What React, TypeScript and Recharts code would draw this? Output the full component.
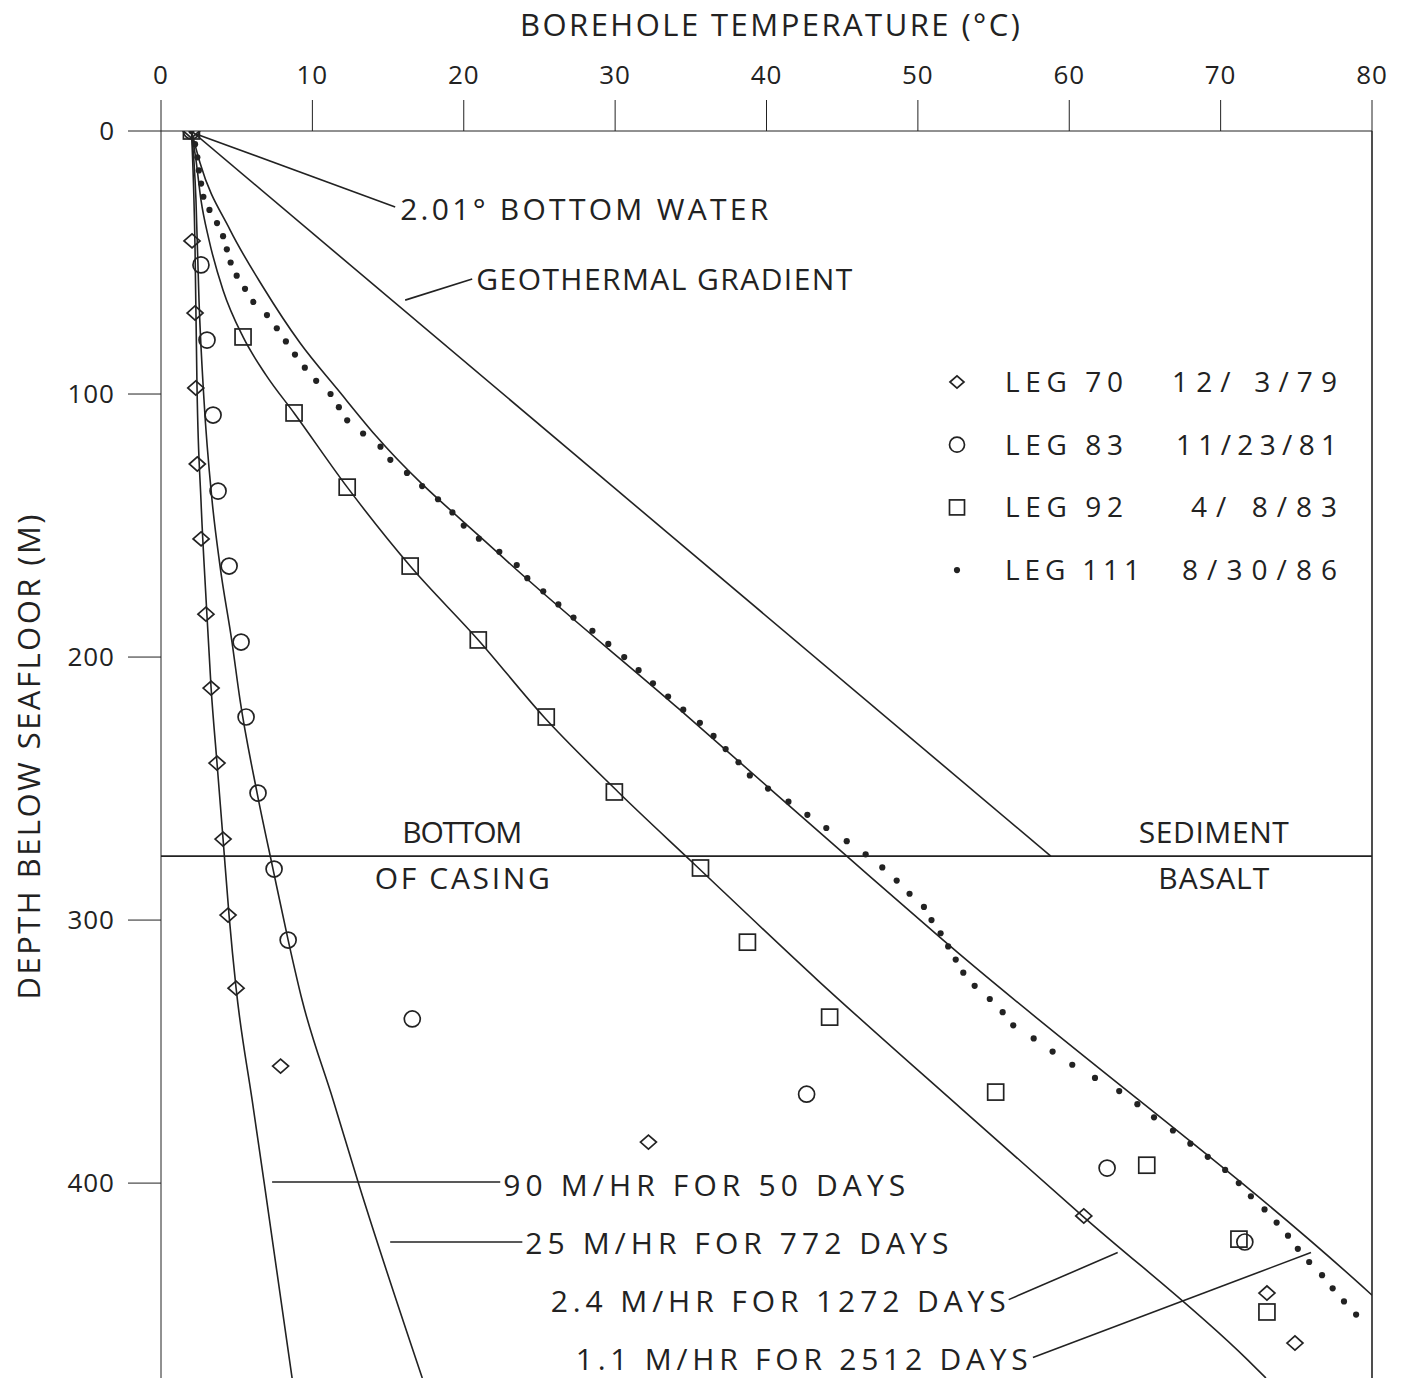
import React from "react";
import {
  ComposedChart,
  XAxis,
  YAxis,
  Line,
  Scatter,
  ReferenceLine,
  ReferenceDot,
  Legend,
} from "recharts";

const FONT = "'Open Sans', 'DejaVu Sans', sans-serif";
const INK = "#222";

const TITLE = "BOREHOLE TEMPERATURE (°C)";
const DEPTH_LABEL = "DEPTH BELOW SEAFLOOR (M)";

const TEMP_TICKS = [0, 10, 20, 30, 40, 50, 60, 70, 80];
const DEPTH_TICKS = [0, 100, 200, 300, 400];

// measured temperatures: [°C, depth m]
const LEG70: [number, number][] = [
  [2.01, 0], [2.05, 41.8], [2.25, 69.2], [2.3, 97.7], [2.4, 126.6], [2.65, 155.1],
  [2.97, 183.7], [3.31, 211.8], [3.7, 240.3], [4.1, 269.2], [4.43, 298.1],
  [4.96, 325.9], [7.9, 355.5], [32.2, 384.4], [60.96, 412.5], [73.06, 441.8],
  [74.91, 460.8],
];

const LEG83: [number, number][] = [
  [2.01, 0], [2.64, 50.9], [3.04, 79.5], [3.44, 108], [3.77, 136.9], [4.5, 165.4],
  [5.29, 194.3], [5.62, 222.8], [6.41, 251.7], [7.47, 280.6], [8.4, 307.6],
  [16.6, 337.6], [42.65, 366.2], [62.5, 394.3], [71.6, 422.4],
];

const LEG92: [number, number][] = [
  [2.01, 0], [5.42, 78.3], [8.79, 107.2], [12.3, 135.4], [16.46, 165.4],
  [20.96, 193.5], [25.45, 222.8], [29.95, 251.3], [35.64, 280.2], [38.74, 308.4],
  [44.17, 336.9], [55.14, 365.4], [65.12, 393.2], [71.21, 421.3], [73.06, 449.0],
];

const LEG111: [number, number][] = [
  [2.01, 0], [2.25, 5], [2.4, 10], [2.5, 15], [2.65, 20], [2.8, 25], [3.2, 30],
  [3.7, 35], [4.1, 40], [4.35, 45], [4.6, 50], [5.0, 55], [5.55, 60], [6.1, 65],
  [7.0, 70], [7.65, 75], [8.25, 80], [8.85, 85], [9.5, 90], [10.25, 95],
  [11.2, 100], [11.75, 105], [12.3, 110], [13.35, 115], [14.5, 120], [15.15, 125],
  [16.25, 130], [17.25, 135], [18.3, 140], [19.25, 145], [20.0, 150], [21.0, 155],
  [22.35, 160], [23.5, 165], [24.2, 170], [25.25, 175], [26.25, 180], [27.25, 185],
  [28.5, 190], [29.55, 195], [30.6, 200], [31.55, 205], [32.5, 210], [33.5, 215],
  [34.5, 220], [35.6, 225], [36.5, 230], [37.3, 235], [38.15, 240], [38.9, 245],
  [40.1, 250], [41.45, 255], [42.7, 260], [43.95, 265], [45.3, 270], [46.55, 275],
  [47.65, 280], [48.6, 285], [49.45, 290], [50.4, 295], [50.9, 300], [51.5, 305],
  [52.0, 310], [52.5, 315], [53.0, 320], [53.75, 325], [54.75, 330], [55.6, 335],
  [56.3, 340], [57.65, 345], [58.9, 350], [60.2, 355], [61.7, 360], [63.3, 365],
  [64.5, 370], [65.6, 375], [66.85, 380], [68.0, 385], [69.15, 390], [70.3, 395],
  [71.2, 400], [72.0, 405], [72.9, 410], [73.7, 415], [74.45, 420], [75.1, 425],
  [75.85, 430], [76.7, 435], [77.4, 440], [78.15, 445], [78.95, 450],
];

// model curves for drilling-fluid circulation
const CURVE_90: [number, number][] = [
  [2.01, 0], [2.25, 45.2], [2.38, 97.7], [2.64, 140.3], [2.98, 178.3], [3.31, 211.8],
  [3.7, 240.3], [4.1, 269.2], [4.5, 298.5], [4.96, 325.9], [6.02, 368.4],
  [6.81, 399.6], [8.66, 474.1],
];

const CURVE_25: [number, number][] = [
  [2.01, 0], [2.31, 26.2], [2.51, 64.3], [2.84, 102.3], [3.37, 140.3], [3.9, 165.4],
  [4.69, 194.3], [5.22, 216.3], [6.35, 251.7], [7.4, 280.6], [8.4, 307.6],
  [9.32, 330.4], [11.37, 368.4], [13.02, 399.6], [17.26, 474.1],
];

const CURVE_24: [number, number][] = [
  [2.01, 0], [2.31, 11], [2.64, 26.2], [3.17, 41.4], [4.1, 60.5], [5.42, 78.3],
  [6.94, 92.8], [8.79, 107.2], [12.3, 135.4], [16.46, 165.4], [20.96, 193.5],
  [25.3, 222.8], [30.2, 251.3], [35.1, 278.0], [43.37, 322.8], [52.83, 371.5],
  [60.96, 412.9], [71.8, 467.3], [72.99, 474.1],
];

const CURVE_11: [number, number][] = [
  [2.01, 0], [2.58, 12.2], [4.56, 37.6], [6.74, 59.3], [9.19, 80.6], [11.7, 98.5],
  [14.15, 115.6], [22.28, 160.5], [34.31, 220.2], [45.36, 276.0], [51.5, 306.8],
  [79.27, 438.8], [80.0, 442.6],
];

const GEOTHERMAL: [number, number][] = [[2.01, 0], [58.78, 275.7]];

const SEDIMENT_BASALT_DEPTH = 275.7;

const LEGEND_ROWS = [
  { kind: "diamond", leg: "LEG 70", date: "12/ 3/79" },
  { kind: "circle", leg: "LEG 83", date: "11/23/81" },
  { kind: "square", leg: "LEG 92", date: "4/ 8/83" },
  { kind: "dot", leg: "LEG 111", date: "8/30/86" },
];

const toPts = (arr: [number, number][]) => arr.map(([t, d]) => ({ t, d }));

type Kind = "diamond" | "circle" | "square" | "dot";

function Marker({ kind, cx, cy, s = 8 }: { kind: Kind; cx: number; cy: number; s?: number }) {
  const common = { fill: "none", stroke: INK, strokeWidth: 1.7 };
  if (kind === "diamond")
    return (
      <polygon
        points={`${cx - s},${cy} ${cx},${cy - s * 0.88} ${cx + s},${cy} ${cx},${cy + s * 0.88}`}
        {...common}
      />
    );
  if (kind === "circle") return <circle cx={cx} cy={cy} r={s} {...common} />;
  if (kind === "square")
    return <rect x={cx - s} y={cy - s} width={2 * s} height={2 * s} {...common} />;
  return <circle cx={cx} cy={cy} r={3.1} fill={INK} />;
}

const shapeOf = (kind: Kind) => (p: any) => <Marker kind={kind} cx={p.cx} cy={p.cy} />;

const textStyle = { fontFamily: FONT, fontWeight: 400, fill: INK };

// annotation text anchored in data coordinates
const NOTES = [
  { text: "2.01° BOTTOM WATER", t: 15.8, d: 33.8, anchor: "start", w: 368 },
  { text: "GEOTHERMAL GRADIENT", t: 20.83, d: 60.5, anchor: "start", w: 376 },
  { text: "BOTTOM", t: 19.9, d: 270.7, anchor: "middle", w: 120 },
  { text: "OF CASING", t: 19.9, d: 288.2, anchor: "middle", w: 175 },
  { text: "SEDIMENT", t: 69.55, d: 270.7, anchor: "middle", w: 150 },
  { text: "BASALT", t: 69.55, d: 288.2, anchor: "middle", w: 111 },
  { text: "90 M/HR FOR 50 DAYS", t: 22.61, d: 404.9, anchor: "start", w: 402 },
  { text: "25 M/HR FOR 772 DAYS", t: 24.07, d: 427, anchor: "start", w: 423 },
  { text: "2.4 M/HR FOR 1272 DAYS", t: 55.8, d: 449.1, anchor: "end", w: 455 },
  { text: "1.1 M/HR FOR 2512 DAYS", t: 57.26, d: 471.1, anchor: "end", w: 452 },
];

const LEADERS = [
  [{ x: 2.31, y: 1.1 }, { x: 15.47, y: 28.9 }],
  [{ x: 16.13, y: 64.3 }, { x: 20.56, y: 56.3 }],
  [{ x: 7.34, y: 399.6 }, { x: 22.41, y: 399.6 }],
  [{ x: 15.14, y: 422.4 }, { x: 23.87, y: 422.4 }],
  [{ x: 56.0, y: 444.3 }, { x: 63.2, y: 426.4 }],
  [{ x: 57.6, y: 466.3 }, { x: 75.97, y: 426.4 }],
];

const LEG_W = [118, 118, 118, 135];
const DATE_W = [165, 161, 146, 155];

function LegendBox() {
  return (
    <svg width={420} height={240} style={{ display: "block" }}>
      {LEGEND_ROWS.map((r, i) => {
        const y = 32 + i * 62.7;
        return (
          <g key={r.leg}>
            <Marker kind={r.kind as Kind} cx={27} cy={y} s={r.kind === "diamond" ? 7 : 7.5} />
            <text x={75} y={y + 10} fontSize={28} {...textStyle} textLength={LEG_W[i]}>
              {r.leg}
            </text>
            <text
              x={407}
              y={y + 10}
              fontSize={28}
              textAnchor="end"
              {...textStyle}
              textLength={DATE_W[i]}
              style={{ whiteSpace: "pre" }}
            >
              {r.date}
            </text>
          </g>
        );
      })}
    </svg>
  );
}

const curveProps = {
  dataKey: "d",
  type: "monotone" as const,
  stroke: INK,
  strokeWidth: 1.6,
  dot: false,
  activeDot: false,
  isAnimationActive: false,
  legendType: "none" as const,
};

export default function App() {
  return (
    <div style={{ position: "absolute", left: 0, top: 0, width: 1408, height: 1378, background: "#fff" }}>
      <ComposedChart
        width={1408}
        height={1378}
        margin={{ top: 71, right: 36, bottom: 0, left: 41 }}
      >
        <XAxis
          type="number"
          dataKey="t"
          orientation="top"
          domain={[0, 80]}
          ticks={TEMP_TICKS}
          allowDataOverflow
          height={60}
          tickSize={31}
          tickMargin={16}
          stroke={INK}
          tick={{ fontSize: 26, ...textStyle, letterSpacing: 1 }}
          label={{
            value: TITLE,
            content: () => (
              <text x={770} y={36} textAnchor="middle" fontSize={31} {...textStyle} textLength={500}>
                {TITLE}
              </text>
            ),
          }}
        />
        <YAxis
          type="number"
          dataKey="d"
          domain={[0, 474.1]}
          reversed
          ticks={DEPTH_TICKS}
          allowDataOverflow
          width={120}
          tickSize={33}
          tickMargin={13}
          stroke={INK}
          tick={{ fontSize: 26, ...textStyle, letterSpacing: 1 }}
          label={{
            value: DEPTH_LABEL,
            content: () => (
              <text
                x={40}
                y={757}
                transform="rotate(-90, 40, 757)"
                textAnchor="middle"
                fontSize={31}
                {...textStyle}
                textLength={485}
              >
                {DEPTH_LABEL}
              </text>
            ),
          }}
        />
        <ReferenceLine x={80} stroke={INK} strokeWidth={1.6} />
        <ReferenceLine y={SEDIMENT_BASALT_DEPTH} stroke={INK} strokeWidth={1.6} />
        {LEADERS.map((seg, i) => (
          <ReferenceLine key={i} segment={seg} stroke={INK} strokeWidth={1.6} ifOverflow="visible" />
        ))}

        <Line data={toPts(GEOTHERMAL)} {...curveProps} type="linear" />
        <Line data={toPts(CURVE_90)} {...curveProps} />
        <Line data={toPts(CURVE_25)} {...curveProps} />
        <Line data={toPts(CURVE_24)} {...curveProps} />
        <Line data={toPts(CURVE_11)} {...curveProps} />

        <Scatter data={toPts(LEG70)} shape={shapeOf("diamond")} isAnimationActive={false} legendType="none" />
        <Scatter data={toPts(LEG83)} shape={shapeOf("circle")} isAnimationActive={false} legendType="none" />
        <Scatter data={toPts(LEG92)} shape={shapeOf("square")} isAnimationActive={false} legendType="none" />
        <Scatter data={toPts(LEG111)} shape={shapeOf("dot")} isAnimationActive={false} legendType="none" />

        {NOTES.map((n) => (
          <ReferenceDot
            key={n.text}
            x={n.t}
            y={n.d}
            r={0}
            ifOverflow="visible"
            shape={(p: any) => (
              <text
                x={p.cx}
                y={p.cy}
                textAnchor={n.anchor as any}
                fontSize={30}
                {...textStyle}
                textLength={n.w}
              >
                {n.text}
              </text>
            )}
          />
        ))}

        <Legend
          layout="vertical"
          align="center"
          verticalAlign="middle"
          content={() => <LegendBox />}
          wrapperStyle={{ top: 350, left: 930, width: 420, height: 240 }}
        />
      </ComposedChart>
    </div>
  );
}
